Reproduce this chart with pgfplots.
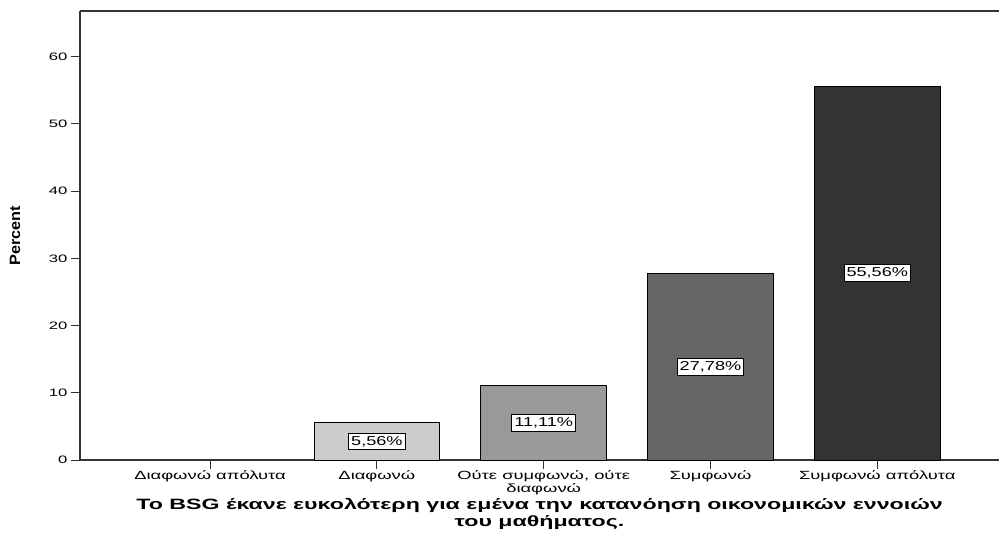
\documentclass[border=0pt]{standalone}
\usepackage{pgfplots}
\pgfplotsset{compat=1.18}
\usepackage{fontspec}
\setmainfont{Liberation Sans}
\newfontfamily\wide[FakeStretch=1.55]{Liberation Sans}
\newfontfamily\lbl[FakeStretch=1.4]{Liberation Sans}
\newfontfamily\widebold[FakeStretch=1.55]{Liberation Sans Bold}
\newfontfamily\narrow[FakeStretch=1.09]{Liberation Sans Bold}
\definecolor{c2}{HTML}{CCCCCC}
\definecolor{c3}{HTML}{999999}
\definecolor{c4}{HTML}{666666}
\definecolor{c5}{HTML}{333333}
\begin{document}
\begin{tikzpicture}
\useasboundingbox (-80bp,-78bp) rectangle (919bp,460bp);
\begin{axis}[
  scale only axis, width=919bp, height=449bp,
  at={(0,0)}, anchor=south west,
  xmin=-0.78, xmax=4.73, ymin=0, ymax=66.8,
  axis x line*=bottom, axis y line*=left,
  axis line style={line width=1.2bp, draw=black!80},
  tick align=outside, major tick length=9bp,
  tick style={line width=1bp, draw=black!80},
  ytick={0,10,20,30,40,50,60},
  xtick={0,1,2,3,4},
  xticklabels={Διαφωνώ απόλυτα, Διαφωνώ, {Ούτε συμφωνώ, ούτε\\διαφωνώ}, Συμφωνώ, Συμφωνώ απόλυτα},
  y tick label style={font=\wide\fontsize{10.8}{12}\selectfont},
  x tick label style={font=\wide\fontsize{11.9}{12.5}\selectfont, align=center, yshift=1.5bp},
  /pgf/number format/assume math mode=true,
  ylabel={Percent},
  ylabel style={font=\narrow\fontsize{15}{16}\selectfont, at={(axis description cs:-0.0707,0.5)}, anchor=center},
  xlabel={Το BSG έκανε ευκολότερη για εμένα την κατανόηση οικονομικών εννοιών\\του μαθήματος.},
  xlabel style={font=\widebold\fontsize{15}{17}\selectfont, align=center, at={(axis description cs:0.5,-0.12)}, anchor=center},
  clip=false,
]
\addplot[ybar, bar width=0.755, draw=none, fill=none] coordinates {(0,0)};
\addplot[ybar, bar width=0.755, draw=black, line width=0.8bp, fill=c2] coordinates {(1,5.56)};
\addplot[ybar, bar width=0.755, draw=black, line width=0.8bp, fill=c3] coordinates {(2,11.11)};
\addplot[ybar, bar width=0.755, draw=black, line width=0.8bp, fill=c4] coordinates {(3,27.78)};
\addplot[ybar, bar width=0.755, draw=black, line width=0.8bp, fill=c5] coordinates {(4,55.56)};
\addplot[draw=none, mark=none, nodes near coords, point meta=explicit symbolic,
  every node near coord/.append style={anchor=center, fill=white, draw=black, line width=0.9bp, font=\lbl\fontsize{13}{13}\selectfont, inner xsep=2.5bp, inner ysep=3bp, text=black}]
  coordinates {(1,2.78)[5,56\%] (2,5.555)[11,11\%] (3,13.89)[27,78\%] (4,27.78)[55,56\%]};
\draw[line width=1.2bp, draw=black!80] (rel axis cs:0,1) -- (rel axis cs:1,1);
\end{axis}
\end{tikzpicture}
\end{document}
